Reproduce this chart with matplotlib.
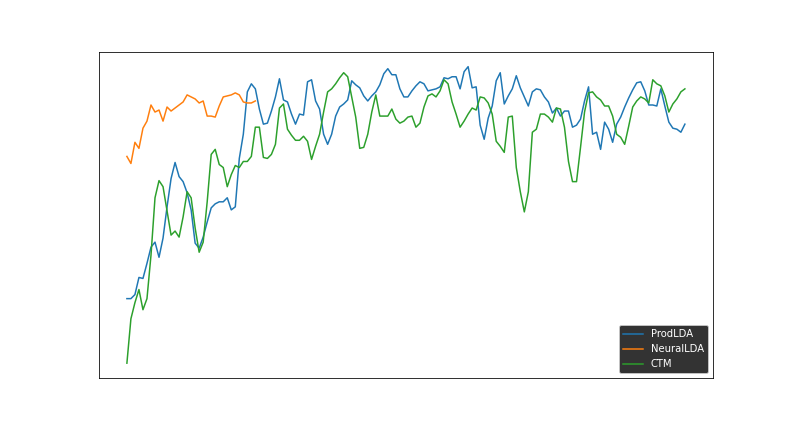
import matplotlib
matplotlib.use("Agg")
import matplotlib.pyplot as plt
import numpy as np

labels = ["ProdLDA", "NeuralLDA", "CTM"]

prodlda = [298, 298, 294, 277, 278, 263, 247, 242, 257, 238,
           207, 179, 163, 177, 182, 193, 210, 243, 248, 237,
           222, 208, 204, 202, 202, 198, 210, 207, 159, 135,
           93, 85, 90, 110, 125, 124, 112, 98, 80, 101,
           103, 115, 125, 115, 116, 83, 81, 102, 110, 135,
           145, 135, 117, 108, 105, 101, 82, 86, 89, 97,
           102, 97, 93, 86, 75, 70, 76, 76, 90, 98,
           98, 92, 87, 83, 85, 92, 91, 90, 88, 79,
           80, 78, 78, 90, 73, 68, 89, 88, 126, 140,
           119, 107, 82, 74, 105, 97, 90, 77, 89, 98,
           107, 93, 90, 91, 98, 103, 114, 109, 117, 112,
           112, 128, 126, 120, 102, 88, 135, 133, 150, 123,
           130, 143, 125, 118, 108, 99, 91, 84, 83, 92,
           106, 106, 107, 90, 107, 123, 129, 130, 133, 125]

neurallda = [157, 164, 143, 149, 129, 122, 106, 113, 111, 122,
             108, 112, 109, 106, 103, 96, 98, 100, 104, 102,
             117, 117, 118, 107, 98, 97, 96, 94, 96, 103,
             104, 104, 102]

ctm = [362, 318, 302, 289, 309, 298, 255, 198, 181, 187,
       211, 235, 231, 237, 217, 192, 198, 228, 252, 242,
       202, 155, 150, 165, 168, 187, 175, 166, 168, 162,
       162, 157, 128, 128, 158, 159, 155, 145, 109, 105,
       130, 136, 141, 141, 137, 142, 160, 147, 135, 113,
       93, 90, 85, 79, 74, 78, 98, 118, 149, 148,
       135, 113, 96, 117, 117, 117, 110, 120, 124, 122,
       118, 117, 128, 124, 108, 97, 95, 98, 92, 81,
       85, 103, 115, 128, 122, 115, 109, 111, 98, 99,
       104, 115, 142, 147, 153, 118, 117, 168, 192, 212,
       192, 133, 130, 115, 115, 118, 123, 109, 110, 128,
       162, 182, 182, 148, 113, 94, 93, 98, 101, 107,
       107, 117, 135, 138, 145, 127, 108, 102, 98, 100,
       104, 81, 85, 87, 97, 113, 105, 100, 93, 90]

# values were read as pixel rows; convert to a score scale (higher is better)
def to_score(rows):
    return (400 - np.array(rows, dtype=float)) / 500.0

fig = plt.figure(figsize=(11, 6), dpi=72)
ax = fig.add_subplot(111)
fig.subplots_adjust(left=0.125, right=0.9, top=0.88, bottom=0.125)

for name, series in zip(labels, [prodlda, neurallda, ctm]):
    y = to_score(series)
    ax.plot(np.arange(len(y)), y, label=name, linewidth=1.5)

ax.set_xticks([])
ax.set_yticks([])
ax.legend(loc="lower right", facecolor="black", labelcolor="white")

fig.savefig("out.png", dpi=72)
